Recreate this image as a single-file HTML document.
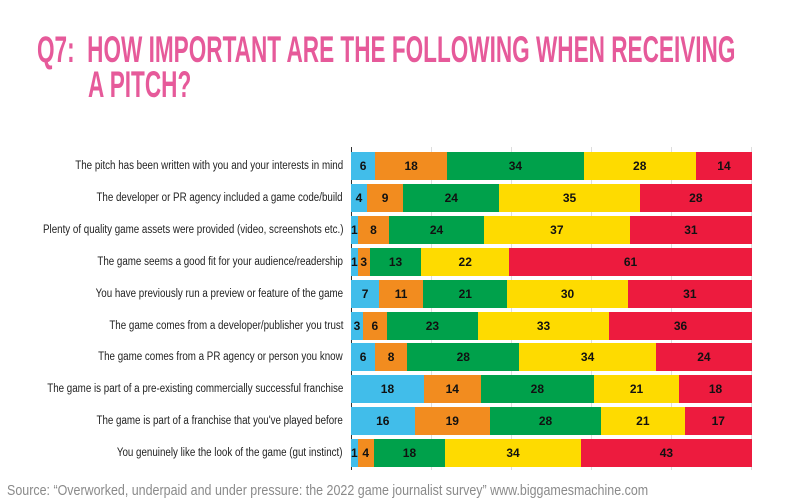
<!DOCTYPE html>
<html><head><style>
body{margin:0;width:800px;height:501px;background:#fff;position:relative;overflow:hidden;font-family:"Liberation Sans",sans-serif}
.t{position:absolute;color:#e65a9a;font-weight:bold;font-size:37px;line-height:37px;transform:scaleX(0.61);transform-origin:0 0;white-space:nowrap}
.lab{position:absolute;right:457px;font-size:11.5px;color:#222;white-space:nowrap;transform:scaleX(0.85);transform-origin:100% 50%;height:28px;line-height:28px}
.bar{position:absolute;left:351px;width:401px;height:28px;display:flex}
.bar div{height:28px;line-height:28px;text-align:center;font-size:12px;font-weight:bold;color:#111;overflow:visible;white-space:nowrap}
.a{background:#41bdea}.b{background:#f28c1f}.c{background:#00a14b}.d{background:#fedb00}.e{background:#ed1b3e}
.g{position:absolute;top:147px;height:323px;width:1px;background:#ddd}
</style></head><body>
<div class="t" style="left:37px;top:31px">Q7:&nbsp; HOW IMPORTANT ARE THE FOLLOWING WHEN RECEIVING</div>
<div class="t" style="left:88px;top:66px">A PITCH?</div>
<div class="g" style="left:431px"></div><div class="g" style="left:511px"></div><div class="g" style="left:591px"></div><div class="g" style="left:671px"></div><div class="g" style="left:751px"></div>
<div class="g" style="left:351px;background:#333"></div>
<div id="rows"></div>
<div style="position:absolute;left:7px;top:483px;font-size:14.5px;color:#8a8a8a;white-space:nowrap;transform:scaleX(0.86);transform-origin:0 0">Source: “Overworked, underpaid and under pressure: the 2022 game journalist survey” www.biggamesmachine.com</div>
<script>
var R=[["The pitch has been written with you and your interests in mind",[6,18,34,28,14]],
["The developer or PR agency included a game code/build",[4,9,24,35,28]],
["Plenty of quality game assets were provided (video, screenshots etc.)",[1,8,24,37,31]],
["The game seems a good fit for your audience/readership",[1,3,13,22,61]],
["You have previously run a preview or feature of the game",[7,11,21,30,31]],
["The game comes from a developer/publisher you trust",[3,6,23,33,36]],
["The game comes from a PR agency or person you know",[6,8,28,34,24]],
["The game is part of a pre-existing commercially successful franchise",[18,14,28,21,18]],
["The game is part of a franchise that you've played before",[16,19,28,21,17]],
["You genuinely like the look of the game (gut instinct)",[1,4,18,34,43]]];
var h="",cl="abcde";
R.forEach(function(r,i){var y=152+i*31.9;
h+='<div class="lab" style="top:'+y+'px">'+r[0]+'</div><div class="bar" style="top:'+y+'px">';
r[1].forEach(function(v,j){h+='<div class="'+cl[j]+'" style="flex:'+v+' 0 0">'+v+'</div>';});
h+='</div>';});
document.getElementById("rows").innerHTML=h;
</script>
</body></html>
